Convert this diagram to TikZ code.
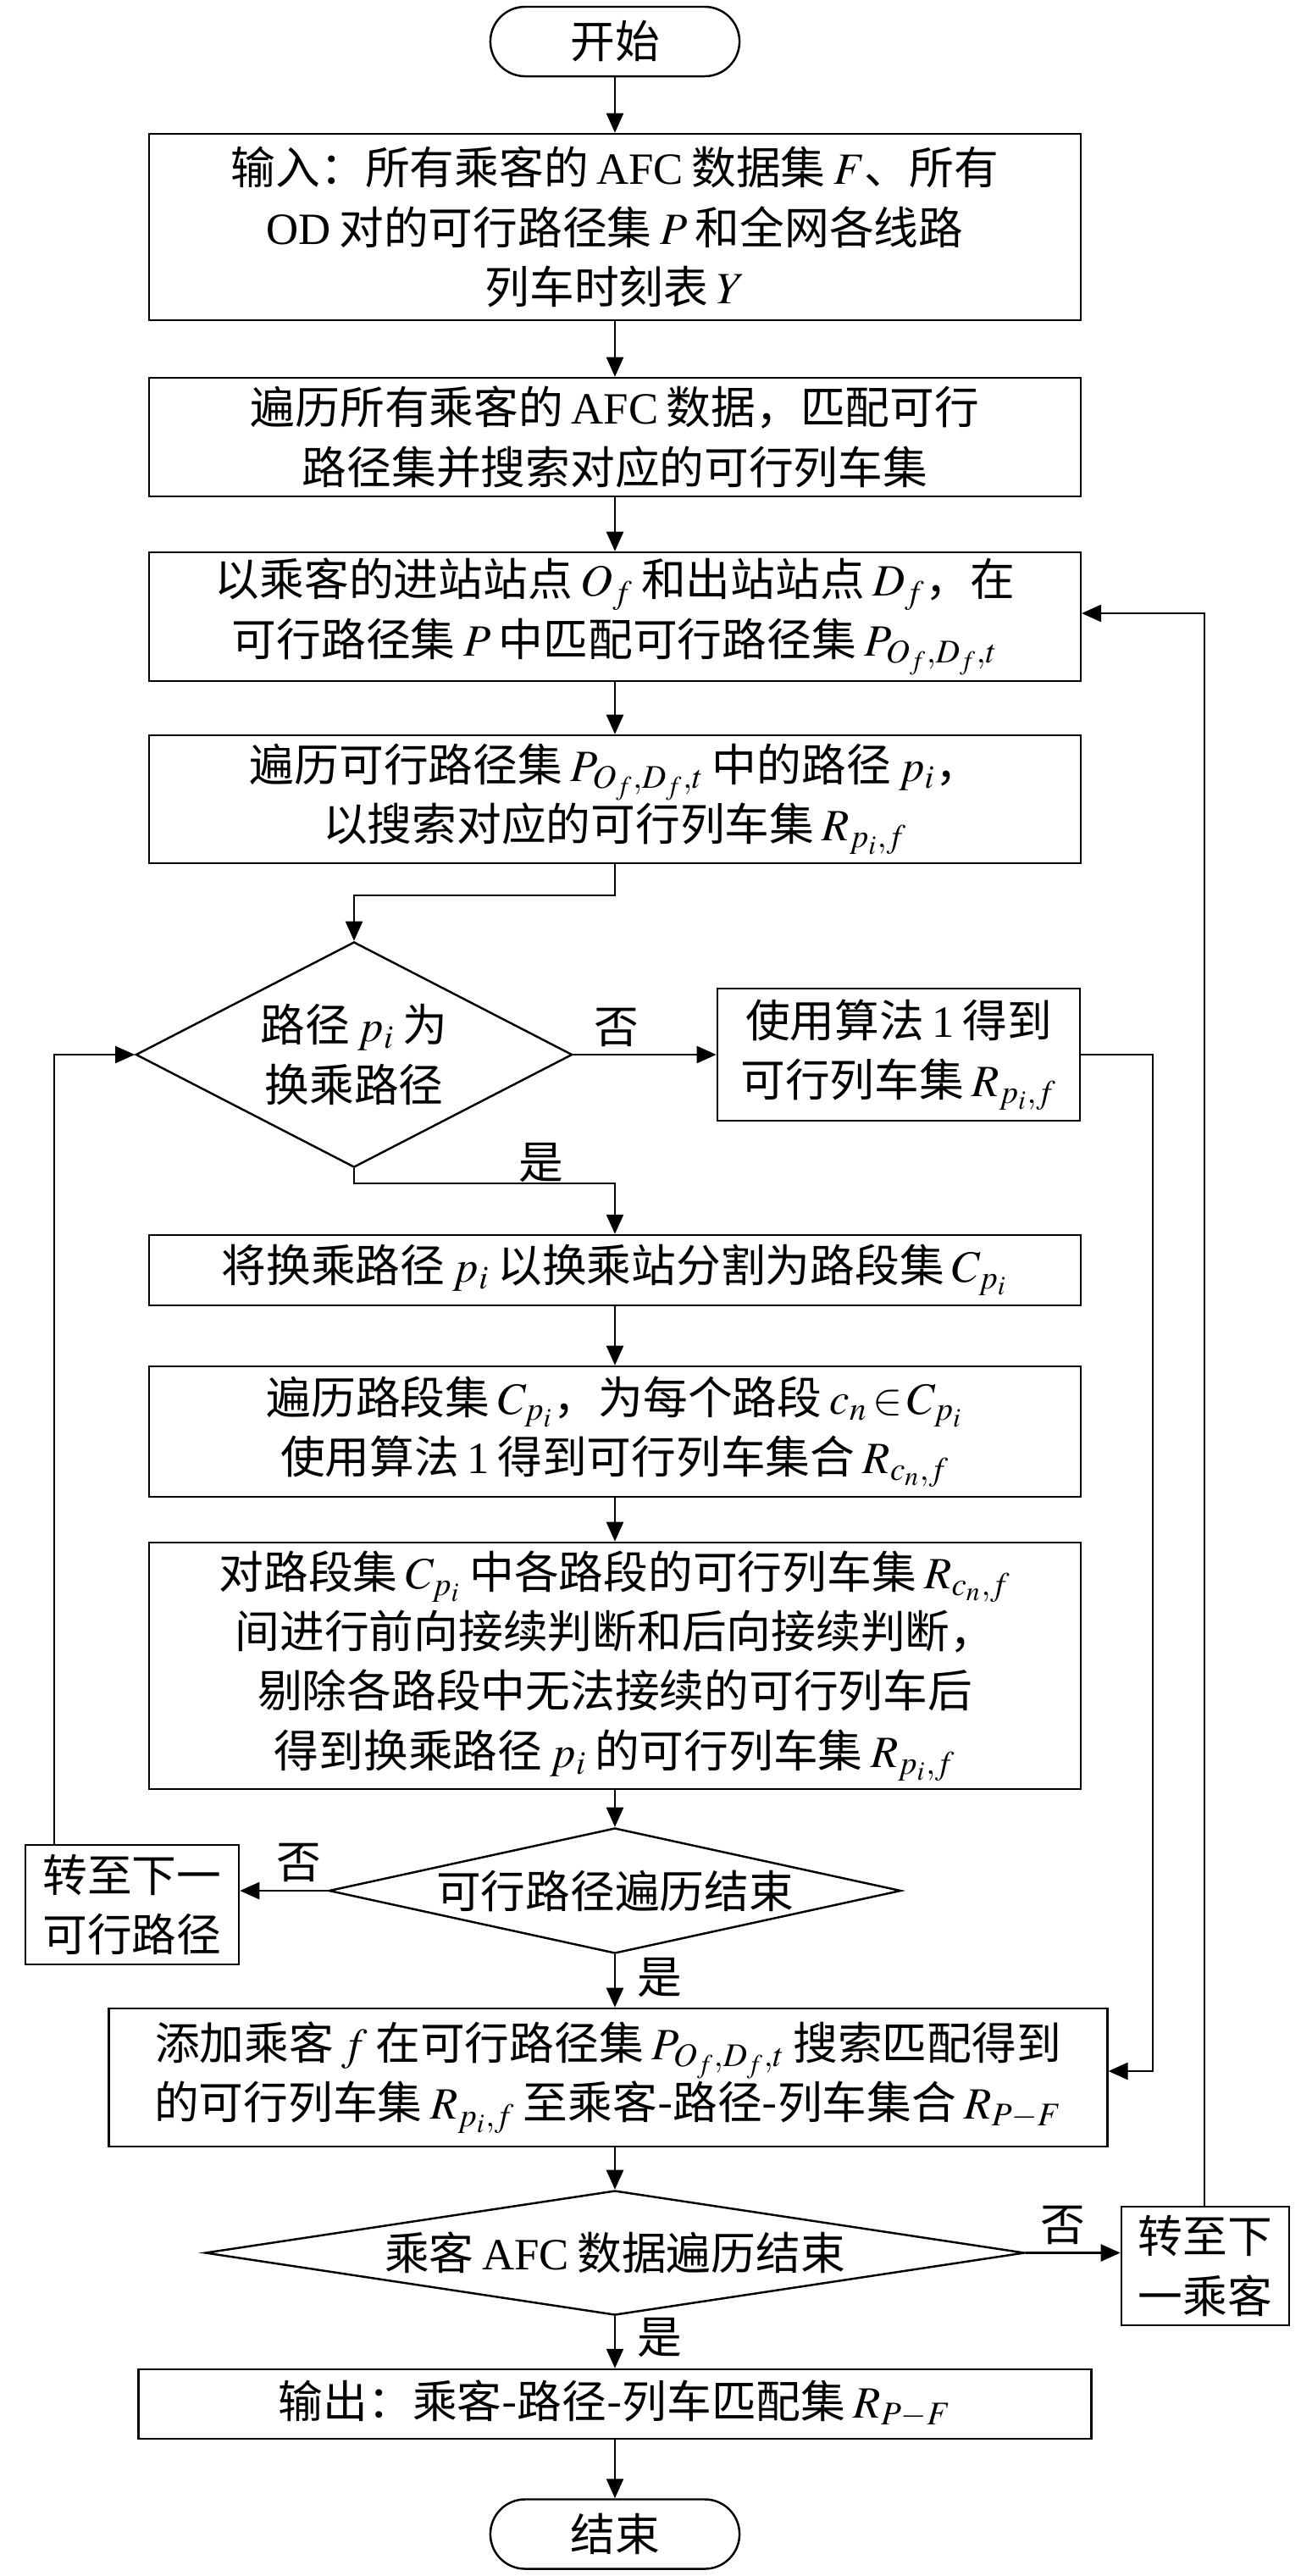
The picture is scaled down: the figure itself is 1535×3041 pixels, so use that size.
\documentclass[tikz,border=0pt]{standalone}
\usepackage{mathptmx}
\usepackage[no-math]{fontspec}
\setmainfont{Noto Sans CJK SC}[WordSpace=0.8]
\newfontfamily\lat{Liberation Serif}[WordSpace=0.8]
\usetikzlibrary{shapes.geometric,arrows.meta}
\begin{document}
\begin{tikzpicture}[x=0.01cm,y=-0.01cm,
  every node/.style={font=\fontsize{15pt}{20pt}\selectfont, inner sep=0pt},
  box/.style={draw, line width=0.7pt, align=center},
  term/.style={draw, line width=0.7pt, rounded corners=0.41cm, minimum width=2.94cm, minimum height=0.82cm},
  dec/.style={draw, diamond, line width=0.7pt, align=center},
  arr/.style={line width=0.7pt, -{Triangle[length=0.23cm,width=0.2cm]}},
  lbl/.style={}]
\useasboundingbox (0,0) rectangle (1535,3041);

\node[term] (start) at (726,49) {开始};
\node[box, minimum width=10.99cm, minimum height=2.2cm] (b1) at (726,268) {输入：所有乘客的 {\lat AFC} 数据集 $F$、所有\\{\lat OD} 对的可行路径集 $P$ 和全网各线路\\列车时刻表 $Y$};
\node[box, minimum width=10.99cm, minimum height=1.4cm] (b2) at (726,516) {遍历所有乘客的 {\lat AFC} 数据，匹配可行\\路径集并搜索对应的可行列车集};
\node[box, minimum width=10.99cm, minimum height=1.52cm] (b3) at (726,728) {以乘客的进站站点 $O_f$ 和出站站点 $D_f$，在\\可行路径集 $P$ 中匹配可行路径集 $P_{O_f,D_f,t}$};
\node[box, minimum width=10.99cm, minimum height=1.51cm] (b4) at (726,943.5) {遍历可行路径集 $P_{O_f,D_f,t}$ 中的路径 $p_i$，\\以搜索对应的可行列车集 $R_{p_i,f}$};
\node[dec, aspect=1.94, minimum width=5.15cm, minimum height=2.66cm] (d1) at (418,1245) {路径 $p_i$ 为\\换乘路径};
\node[box, minimum width=4.28cm, minimum height=1.56cm] (alg) at (1061,1245) {使用算法 {\lat 1} 得到\\可行列车集 $R_{p_i,f}$};
\node[box, minimum width=10.99cm, minimum height=0.83cm] (b5) at (726,1499.5) {将换乘路径 $p_i$ 以换乘站分割为路段集 $C_{p_i}$};
\node[box, minimum width=10.99cm, minimum height=1.54cm] (b6) at (726,1690) {遍历路段集 $C_{p_i}$，为每个路段 $c_n\!\in\! C_{p_i}$\\使用算法 {\lat 1} 得到可行列车集合 $R_{c_n,f}$};
\node[box, minimum width=10.99cm, minimum height=2.91cm] (b7) at (726,1966.5) {对路段集 $C_{p_i}$ 中各路段的可行列车集 $R_{c_n,f}$\\间进行前向接续判断和后向接续判断，\\剔除各路段中无法接续的可行列车后\\得到换乘路径 $p_i$ 的可行列车集 $R_{p_i,f}$};
\node[dec, aspect=4.56, minimum width=6.75cm, minimum height=1.48cm] (d2) at (726,2232) {可行路径遍历结束};
\node[box, minimum width=2.52cm, minimum height=1.41cm] (np) at (156,2248.5) {转至下一\\可行路径};
\node[box, minimum width=11.78cm, minimum height=1.63cm] (b8) at (718,2452.5) {添加乘客 $f$ 在可行路径集 $P_{O_f,D_f,t}$ 搜索匹配得到\\的可行列车集 $R_{p_i,f}$ 至乘客-路径-列车集合 $R_{P-F}$};
\node[dec, aspect=6.58, minimum width=9.67cm, minimum height=1.47cm] (d3) at (726,2659.5) {乘客 {\lat AFC} 数据遍历结束};
\node[box, minimum width=1.98cm, minimum height=1.4cm] (nc) at (1423,2675) {转至下\\一乘客};
\node[box, minimum width=11.24cm, minimum height=0.82cm] (b9) at (726,2838) {输出：乘客-路径-列车匹配集 $R_{P-F}$};
\node[term] (stop) at (726,2991.5) {结束};

\node[lbl] (no1) at (728,1213) {否};
\node[lbl] (yes1) at (639,1373) {是};
\node[lbl] (no2) at (353,2199) {否};
\node[lbl] (yes2) at (779,2335) {是};
\node[lbl] (no3) at (1255,2627) {否};
\node[lbl] (yes3) at (779,2760) {是};

\coordinate (k1) at (726,1057);
\coordinate (k2) at (418,1397);
\coordinate (L) at (64,1245);
\coordinate (R) at (1361,2445);
\coordinate (T) at (1422,724);

\draw[arr] (start) -- (b1);
\draw[arr] (b1) -- (b2);
\draw[arr] (b2) -- (b3);
\draw[arr] (b3) -- (b4);
\draw[arr] (b4.south) -- (k1) -| (d1.north);
\draw[arr] (d1.east) -- (alg.west);
\draw[arr] (d1.south) -- (k2) -| (b5.north);
\draw[arr] (b5) -- (b6);
\draw[arr] (b6) -- (b7);
\draw[arr] (b7) -- (d2);
\draw[arr] (d2.west) -- (d2.west -| np.east);
\draw[arr] (np.north -| L) -- (L) -- (d1.west);
\draw[arr] (d2.south) -- (d2.south |- b8.north);
\draw[arr] (alg.east) -| (R) -- (R -| b8.east);
\draw[arr] (b8.south -| d3.north) -- (d3.north);
\draw[arr] (d3.east) -- (d3.east -| nc.west);
\draw[arr] (nc.north -| T) -- (T) -- (T -| b3.east);
\draw[arr] (d3.south) -- (b9.north);
\draw[arr] (b9) -- (stop);
\end{tikzpicture}
\end{document}
